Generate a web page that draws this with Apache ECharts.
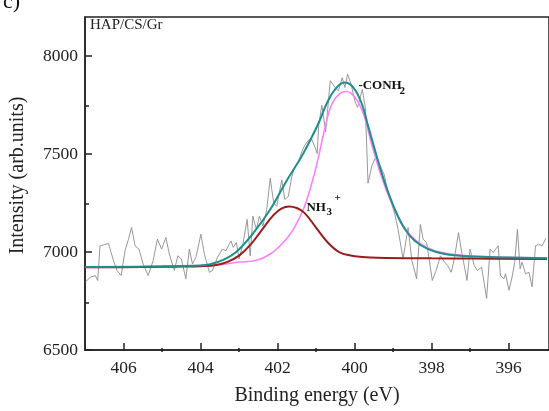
<!DOCTYPE html>
<html>
<head>
<meta charset="utf-8">
<script src="https://cdn.jsdelivr.net/npm/echarts@6/dist/echarts.min.js"></script>
<style>
html,body{margin:0;padding:0;background:#fff;}
#c{width:549px;height:411px;}
</style>
</head>
<body>
<div id="c"></div>
<script>
// Raw spectrum (binding energy eV, intensity)
const rawEnergy = [406.99,406.86,406.73,406.67,406.61,406.51,406.39,406.26,406.17,406.06,405.96,405.87,405.79,405.70,405.60,405.49,405.36,405.23,405.12,405.01,404.90,404.81,404.68,404.59,404.50,404.38,404.29,404.21,404.12,403.99,403.90,403.77,403.69,403.56,403.43,403.34,403.21,403.15,403.07,403.00,402.90,402.79,402.71,402.64,402.55,402.47,402.38,402.28,402.19,402.10,402.02,401.89,401.81,401.72,401.63,401.55,401.46,401.37,401.29,401.20,401.12,401.03,400.97,400.93,400.85,400.75,400.63,400.50,400.42,400.32,400.25,400.18,400.09,399.99,399.92,399.80,399.72,399.65,399.55,399.45,399.32,399.23,399.13,399.04,398.95,398.87,398.74,398.61,398.51,398.39,398.29,398.22,398.13,398.07,397.98,397.88,397.77,397.66,397.58,397.49,397.41,397.30,397.21,397.15,397.08,397.00,396.89,396.81,396.70,396.57,396.48,396.40,396.27,396.21,396.12,396.08,395.99,395.90,395.84,395.77,395.70,395.65,395.56,395.47,395.39,395.30,395.22,395.13,395.03];
const rawCounts = [6847,6872,6880,6855,7032,7037,7044,6956,6906,6880,7007,7066,7125,7032,7015,6939,6880,6956,7066,7015,7074,6990,6906,6981,6965,6864,7015,6939,6973,7091,6990,6897,6906,6973,7015,7007,7057,7024,7049,6965,7040,7167,6981,7183,7116,7183,7133,7217,7377,7251,7234,7369,7268,7284,7385,7436,7461,7512,7545,7571,7579,7537,7503,7650,7750,7615,7875,7840,7823,7890,7840,7908,7857,7770,7739,7830,7739,7352,7440,7486,7435,7395,7301,7250,7190,7116,6965,7125,6956,6864,7141,7066,7049,6973,6855,6906,6981,6948,6931,6897,6965,7099,6990,6931,6855,7015,6931,6906,6923,6763,7015,6998,7032,6880,6864,6889,6805,6880,6948,7116,6914,6948,6889,6897,6822,7032,7040,7032,7069];

// NH3+ component
const nh3Energy = [407,406,405,404.5,404,403.6,403.3,403.0,402.7,402.4,402.1,401.9,401.7,401.5,401.3,401.0,400.7,400.4,400.1,399.8,399.4,398,397,395];
const nh3Counts = [6922,6923,6925,6926,6928,6934,6950,6982,7038,7115,7190,7222,7233,7225,7200,7125,7050,7000,6982,6975,6971,6968,6967,6965];

// -CONH2 component
const conhEnergy = [407,405,403.77,403.05,402.54,402.19,401.85,401.59,401.33,401.16,400.99,400.76,400.59,400.38,400.21,399.99,399.77,399.56,399.30,399.04,398.79,398.53,398.27,397.92,397.50,397.06,396.03,395.0];
const conhCounts = [6922,6926,6930,6948,6958,6990,7049,7116,7217,7318,7440,7640,7756,7810,7820,7790,7706,7554,7385,7251,7150,7082,7040,7007,6990,6981,6973,6970];

// Envelope
const envEnergy = [407,405,404,403.77,403.41,403.05,402.62,402.19,401.76,401.34,400.93,400.72,400.50,400.26,400.03,399.81,399.64,399.42,399.21,398.95,398.69,398.43,398.09,397.66,397.06,396,395];
const envCounts = [6924,6927,6932,6937,6960,7004,7099,7217,7365,7500,7660,7760,7832,7865,7840,7756,7638,7486,7352,7217,7116,7057,7015,6990,6978,6972,6968];

// Tick labels
const xMajorTicks = [396,398,400,402,404,406];
const xMinorTicks = [397,399,401,403,405];
const yMajorTicks = [6500,7000,7500,8000];
const yMinorTicks = [6750,7250,7750];

const FONT = '"Liberation Serif","Times New Roman",serif';
const AX = '#222';

function pairs(xs, ys){ return xs.map((x,i)=>[x, ys[i]]); }

const chart = echarts.init(document.getElementById('c'), null, {renderer:'canvas'});
const gridPos = {left:85, right:-2, top:17, bottom:59};
const xRange = {min:394.95, max:407};
const yRange = {min:6500, max:8200};
const plain = v => String(v);

chart.setOption({
  animation:false,
  backgroundColor:'#fff',
  grid:[
    Object.assign({show:true, borderColor:AX, borderWidth:1.5, backgroundColor:'transparent'}, gridPos),
    Object.assign({show:false}, gridPos)
  ],
  xAxis:[
    Object.assign({
      gridIndex:0, type:'value', inverse:true, position:'bottom',
      axisLine:{show:true, onZero:false, lineStyle:{color:AX, width:1.5}},
      axisTick:{show:true, inside:true, length:7, customValues:xMajorTicks, lineStyle:{color:AX, width:1.5}},
      axisLabel:{customValues:xMajorTicks, formatter:plain, margin:9, fontFamily:FONT, fontSize:17.5, color:AX},
      splitLine:{show:false},
      name:'Binding energy (eV)', nameLocation:'middle', nameGap:36,
      nameTextStyle:{fontFamily:FONT, fontSize:20, color:AX}
    }, xRange),
    Object.assign({
      gridIndex:1, type:'value', inverse:true, position:'bottom',
      axisLine:{show:false},
      axisTick:{show:true, inside:true, length:4, customValues:xMinorTicks, lineStyle:{color:AX, width:1.5}},
      axisLabel:{show:false}, splitLine:{show:false}
    }, xRange)
  ],
  yAxis:[
    Object.assign({
      gridIndex:0, type:'value', position:'left',
      axisLine:{show:true, onZero:false, lineStyle:{color:AX, width:1.5}},
      axisTick:{show:true, inside:true, length:7, customValues:yMajorTicks, lineStyle:{color:AX, width:1.5}},
      axisLabel:{customValues:yMajorTicks, formatter:plain, margin:7, fontFamily:FONT, fontSize:17.5, color:AX},
      splitLine:{show:false},
      name:'Intensity (arb.units)', nameLocation:'middle', nameGap:57,
      nameTextStyle:{fontFamily:FONT, fontSize:20, color:AX, padding:[0,0,0,16]}
    }, yRange),
    Object.assign({
      gridIndex:1, type:'value', position:'left',
      axisLine:{show:false},
      axisTick:{show:true, inside:true, length:4, customValues:yMinorTicks, lineStyle:{color:AX, width:1.5}},
      axisLabel:{show:false}, splitLine:{show:false}
    }, yRange)
  ],
  series:[
    {type:'line', name:'raw', xAxisIndex:0, yAxisIndex:0, data:pairs(rawEnergy, rawCounts), showSymbol:false, symbol:'none',
     lineStyle:{color:'#8c8c8c', width:0.9}, z:1},
    {type:'line', name:'CONH2', xAxisIndex:0, yAxisIndex:0, data:pairs(conhEnergy, conhCounts), showSymbol:false, symbol:'none', smooth:0.4,
     lineStyle:{color:'#ff80ff', width:1.6}, z:2},
    {type:'line', name:'NH3', xAxisIndex:0, yAxisIndex:0, data:pairs(nh3Energy, nh3Counts), showSymbol:false, symbol:'none', smooth:0.4,
     lineStyle:{color:'#9b1c1c', width:2}, z:3},
    {type:'line', name:'env', xAxisIndex:0, yAxisIndex:0, data:pairs(envEnergy, envCounts), showSymbol:false, symbol:'none', smooth:0.4,
     lineStyle:{color:'#1f8f8c', width:2}, z:4}
  ]
});

const a1 = chart.convertToPixel({gridIndex:0}, [399.9, 7848]);
const a2 = chart.convertToPixel({gridIndex:0}, [401.25, 7227]);
const bold = 'bold 13px ' + FONT;
chart.setOption({
  graphic:[
    {type:'text', x:3, y:-9, style:{text:'c)', font:'22px ' + FONT, fill:'#111'}},
    {type:'text', x:90, y:18, style:{text:'HAP/CS/Gr', font:'15px ' + FONT, fill:'#222'}},
    {type:'text', x:a1[0], y:a1[1], style:{text:'-CONH', font:bold, fill:'#111', verticalAlign:'middle'}},
    {type:'text', x:a1[0]+41, y:a1[1]+5, style:{text:'2', font:'bold 11px ' + FONT, fill:'#111', verticalAlign:'middle'}},
    {type:'text', x:a2[0], y:a2[1], style:{text:'NH', font:bold, fill:'#111', verticalAlign:'middle'}},
    {type:'text', x:a2[0]+20, y:a2[1]+5, style:{text:'3', font:'bold 11px ' + FONT, fill:'#111', verticalAlign:'middle'}},
    {type:'text', x:a2[0]+28, y:a2[1]-9, style:{text:'+', font:'bold 11px ' + FONT, fill:'#111', verticalAlign:'middle'}}
  ]
});
</script>
</body>
</html>
